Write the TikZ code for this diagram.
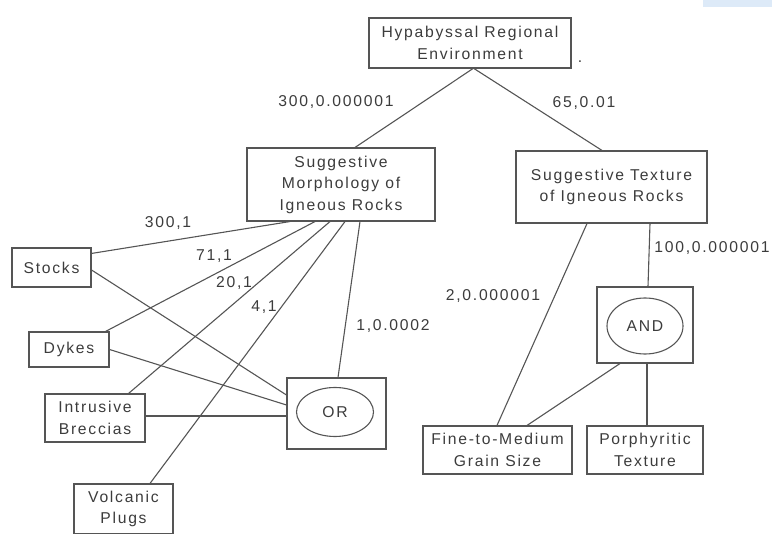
\documentclass[tikz,border=0pt]{standalone}
\usepackage{fontspec}
\setmainfont{Liberation Sans}[LetterSpace=11]
\usetikzlibrary{shapes.geometric}
\definecolor{lc}{HTML}{555555}
\definecolor{tc}{HTML}{3C3C3C}
\definecolor{bluecorner}{HTML}{DDEAF8}
\newcommand\dgfont{\fontsize{15.7}{21.5}\selectfont}
\begin{document}
\begin{tikzpicture}[x=1pt,y=-1pt,
  box/.style={draw=lc, line width=1.1pt, text=tc, align=center, inner sep=0pt, font=\dgfont},
  oval/.style={ellipse, draw=lc, line width=1.1pt, text=tc, inner sep=0pt, font=\dgfont},
  lbl/.style={text=tc, inner sep=0pt, font=\dgfont},
  link/.style={draw=lc, line width=1.1pt}]
\useasboundingbox (0,0) rectangle (772,534);
\fill[bluecorner] (703,0) rectangle (772,7);

% boxes
\node[box, minimum width=202, minimum height=50] (hyp) at (470,43) {Hypabyssal Regional\\Environment};
\node[lbl] (dot) at (580,62) {.};
\node[box, minimum width=188, minimum height=73] (morph) at (341,184.5) {Suggestive\\Morphology of\\Igneous Rocks};
\node[box, minimum width=191, minimum height=72] (tex) at (611.5,187) {Suggestive Texture\\of Igneous Rocks};
\node[box, minimum width=79, minimum height=39] (stocks) at (51.5,267.5) {Stocks};
\node[box, minimum width=80, minimum height=35] (dykes) at (69,349.5) {Dykes};
\node[box, minimum width=100, minimum height=48] (brec) at (95,418) {Intrusive\\Breccias};
\node[box, minimum width=99, minimum height=50] (plugs) at (123.5,509) {Volcanic\\Plugs};
\node[box, minimum width=99, minimum height=71] (orbox) at (336.5,413.5) {};
\node[oval, minimum width=77, minimum height=49] (orel) at (335,412) {OR};
\node[box, minimum width=96, minimum height=76] (andbox) at (645,325) {};
\node[oval, minimum width=76, minimum height=56] (andel) at (645,326) {AND};
\node[box, minimum width=149, minimum height=48] (fine) at (497.5,450) {Fine-to-Medium\\Grain Size};
\node[box, minimum width=116, minimum height=48] (por) at (645,450) {Porphyritic\\Texture};

% connectors
\draw[link] ([xshift=3pt]hyp.south) -- ([xshift=14pt]morph.north);
\draw[link] ([xshift=4pt]hyp.south) -- ([xshift=-9.5pt]tex.north);
\draw[link] ([yshift=-6pt]stocks.north east) -- ([xshift=-51pt]morph.south);
\draw[link] ([yshift=-2.5pt]stocks.east) -- ([yshift=18.5pt]orbox.west);
\draw[link] ([xshift=-4pt]dykes.north east) -- ([xshift=-26pt]morph.south);
\draw[link] (dykes.east) -- ([yshift=8.5pt]orbox.west);
\draw[link] ([xshift=-17pt]brec.north east) -- ([xshift=-11pt]morph.south);
\draw[link] ([yshift=2pt]brec.east) -- ([yshift=-2.5pt]orbox.west);
\draw[link] ([xshift=26.5pt]plugs.north) -- ([xshift=4pt]morph.south);
\draw[link] ([xshift=19pt]morph.south) -- ([xshift=1.5pt]orbox.north);
\draw[link] ([xshift=-24.5pt]tex.south) -- ([xshift=-0.5pt]fine.north);
\draw[link] ([xshift=38.5pt]tex.south) -- ([xshift=3pt]andbox.north);
\draw[link] ([xshift=-25pt]andbox.south) -- ([xshift=29.5pt]fine.north);
\draw[link] ([xshift=2pt]andbox.south) -- ([xshift=2pt]por.north);

% labels
\node[lbl] (l1) at (336,102) {300,0.000001};
\node[lbl] (l2) at (584,103) {65,0.01};
\node[lbl] (l3) at (168,223) {300,1};
\node[lbl] (l4) at (214,256) {71,1};
\node[lbl] (l5) at (234,283) {20,1};
\node[lbl] (l6) at (264,307) {4,1};
\node[lbl] (l7) at (393,326) {1,0.0002};
\node[lbl] (l8) at (493,296) {2,0.000001};
\node[lbl] (l9) at (712,248) {100,0.000001};
\end{tikzpicture}
\end{document}
